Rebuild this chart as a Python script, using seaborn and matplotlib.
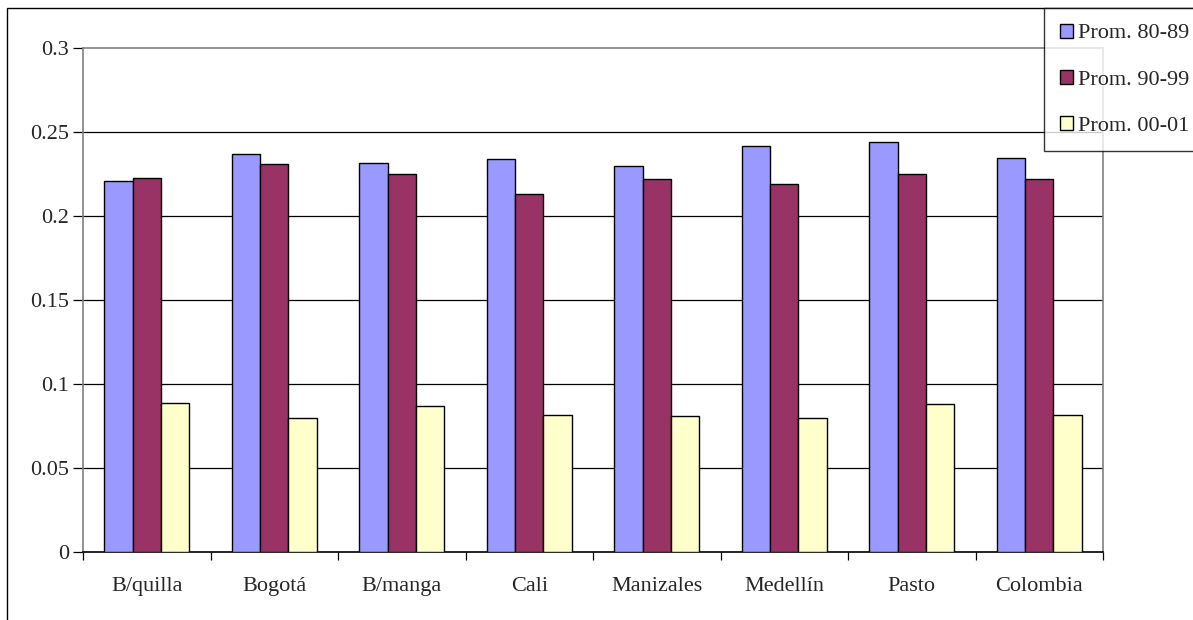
import matplotlib
matplotlib.use("Agg")
import matplotlib.pyplot as plt
from matplotlib.patches import Rectangle
import pandas as pd
import seaborn as sns

ciudades = ["B/quilla", "Bogotá", "B/manga", "Cali", "Manizales", "Medellín", "Pasto", "Colombia"]
series = ["Prom. 80-89", "Prom. 90-99", "Prom. 00-01"]
prom_80_89 = [0.221, 0.237, 0.232, 0.234, 0.230, 0.242, 0.244, 0.235]
prom_90_99 = [0.223, 0.231, 0.225, 0.213, 0.222, 0.219, 0.225, 0.222]
prom_00_01 = [0.089, 0.080, 0.087, 0.082, 0.081, 0.080, 0.088, 0.082]
colores = ["#9999FF", "#993366", "#FFFFCC"]
y_ticks = [0, 0.05, 0.1, 0.15, 0.2, 0.25, 0.3]
y_labels = ["0", "0.05", "0.1", "0.15", "0.2", "0.25", "0.3"]

rows = []
for serie, vals in zip(series, [prom_80_89, prom_90_99, prom_00_01]):
    for c, v in zip(ciudades, vals):
        rows.append({"ciudad": c, "serie": serie, "valor": v})
df = pd.DataFrame(rows)

sns.set_theme(style="white")
plt.rcParams["font.family"] = ["Liberation Serif", "DejaVu Serif"]

W, H = 1193, 620
fig = plt.figure(figsize=(W / 100, H / 100), dpi=100)
ax = fig.add_axes([83 / W, 1 - 552.3 / H, (1103 - 83) / W, (552.3 - 48.3) / H])

sns.barplot(data=df, x="ciudad", y="valor", hue="serie", order=ciudades,
            hue_order=series, palette=colores, width=0.667, gap=0,
            edgecolor="black", linewidth=1.0, saturation=1, ax=ax,
            legend=True, zorder=3)

ax.set_xlim(-0.5, len(ciudades) - 0.5)
ax.set_ylim(0, 0.3)
ax.set_yticks(y_ticks)
ax.set_yticklabels(y_labels)
ax.set_xlabel("")
ax.set_ylabel("")

# horizontal gridlines
for yv in y_ticks[1:-1]:
    ax.axhline(yv, color="black", lw=0.9, zorder=1)

# category ticks sit on the boundaries between groups
ax.set_xticks([i - 0.5 for i in range(len(ciudades) + 1)], minor=False)
ax.set_xticklabels([""] * (len(ciudades) + 1))
ax.set_xticks(range(len(ciudades)), minor=True)
ax.set_xticklabels(ciudades, minor=True)
ax.tick_params(axis="x", which="major", direction="out", length=6, width=0.9,
               color="black", bottom=True)
ax.tick_params(axis="x", which="minor", length=0, pad=18, labelsize=16)
ax.tick_params(axis="y", direction="out", length=7, width=0.9, color="black",
               left=True, pad=3, labelsize=16)

for side in ["left", "top", "right"]:
    ax.spines[side].set_color("#808080")
    ax.spines[side].set_linewidth(1.2)
ax.spines["bottom"].set_color("black")
ax.spines["bottom"].set_linewidth(1.2)

# outer chart frame
fig.patches.append(Rectangle((7 / W, -0.1), 1.2, 1 - 8 / H + 0.1,
                             transform=fig.transFigure, fill=False,
                             edgecolor="black", lw=1.0, zorder=0))

handles, labels = ax.get_legend_handles_labels()
ax.get_legend().remove()
leg = fig.legend(handles, labels, loc="upper left",
                 bbox_to_anchor=(1044 / W, 1 - 8 / H),
                 frameon=True, fancybox=False, shadow=False,
                 fontsize=16, handlelength=0.6, handleheight=0.6,
                 handletextpad=0.22, labelspacing=1.18, borderpad=0.7,
                 borderaxespad=0)
leg.get_frame().set_edgecolor("black")
leg.get_frame().set_linewidth(1.0)
leg.set_zorder(10)

fig.savefig("out.png", dpi=100)
